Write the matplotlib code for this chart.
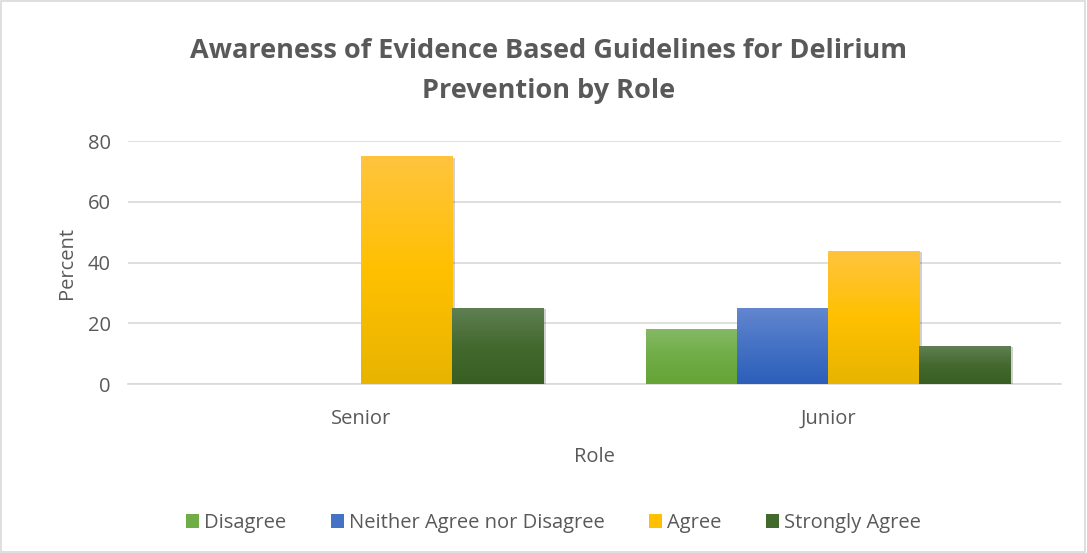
import matplotlib.pyplot as plt
import matplotlib.patheffects as pe
from matplotlib.colors import LinearSegmentedColormap
from matplotlib.patches import Patch, Rectangle
import numpy as np

# ---------------------------------------------------------------------------
# data
# ---------------------------------------------------------------------------
roles = ["Senior", "Junior"]
responses = ["Disagree", "Neither Agree nor Disagree", "Agree", "Strongly Agree"]
senior = [0, 0, 75, 25]
junior = [18.2, 25, 43.8, 12.5]

# gradient colours per response (top, middle, bottom)
grads = [
    ["#86b966", "#70ad47", "#64a334"],
    ["#6386cf", "#4472c4", "#2c5fba"],
    ["#ffc43f", "#ffc000", "#e8b400"],
    ["#5f7f53", "#44692f", "#385e22"],
]
legend_cols = ["#70ad47", "#4472c4", "#ffc000", "#436a2d"]

TXT = "#595959"
GRID = "#d9d9d9"

plt.rcParams['font.family'] = ['Open Sans', 'DejaVu Sans']

fig = plt.figure(figsize=(10.87, 5.53), dpi=100)
ax = fig.add_axes([0.1173, 0.3056, 0.8592, 0.4394])

width = 0.195
x = np.arange(len(roles))
values = np.array([senior, junior])

grad = np.linspace(0, 1, 256).reshape(-1, 1)
for j, name in enumerate(responses):
    cmap = LinearSegmentedColormap.from_list(name, grads[j][::-1])
    for i in range(len(roles)):
        h = values[i, j]
        if h <= 0:
            continue
        x0 = x[i] + (j - 2) * width
        bar = Rectangle((x0, 0), width, h, facecolor=grads[j][1],
                        edgecolor="none", zorder=3)
        bar.set_path_effects([pe.SimplePatchShadow(offset=(2, -1), shadow_rgbFace="#000000",
                                                   alpha=0.18), pe.Normal()])
        ax.add_patch(bar)
        im = ax.imshow(grad, extent=(x0, x0 + width, 0, h), origin="lower",
                       cmap=cmap, aspect="auto", zorder=4, interpolation="bilinear")
        im.set_clip_path(bar)

ax.set_xlim(-0.5, 1.5)
ax.set_ylim(0, 80)
ax.set_yticks([0, 20, 40, 60, 80])
ax.set_xticks(x)
ax.set_xticklabels(roles)
ax.yaxis.grid(True, color=GRID, linewidth=1.2, zorder=0)
ax.set_axisbelow(True)
for s in ["top", "right", "left"]:
    ax.spines[s].set_visible(False)
ax.spines["bottom"].set_color(GRID)
ax.spines["bottom"].set_linewidth(1.2)
ax.tick_params(axis="both", length=0, labelsize=14.5, colors=TXT, pad=12)
ax.tick_params(axis="x", pad=18)

ax.set_xlabel("Role", fontsize=14.5, color=TXT, labelpad=13)
ax.set_ylabel("Percent", fontsize=14.5, color=TXT, labelpad=8)

fig.text(0.505, 0.908, "Awareness of Evidence Based Guidelines for Delirium",
         ha="center", va="center", fontsize=19.5, fontweight="bold", color=TXT)
fig.text(0.505, 0.836, "Prevention by Role",
         ha="center", va="center", fontsize=19.5, fontweight="bold", color=TXT)

handles = [Patch(facecolor=c, edgecolor="none") for c in legend_cols]
fig.legend(handles, responses, loc="center", bbox_to_anchor=(0.509, 0.054),
           ncol=4, frameon=False, fontsize=14.5, labelcolor=TXT,
           handlelength=0.65, handleheight=0.65, handletextpad=0.25,
           columnspacing=2.2)

# chart border
fig.patches.append(Rectangle((0.001, 0.002), 0.997, 0.996, transform=fig.transFigure,
                             fill=False, edgecolor=GRID, linewidth=1.2))

fig.savefig("out.png", dpi=100)
